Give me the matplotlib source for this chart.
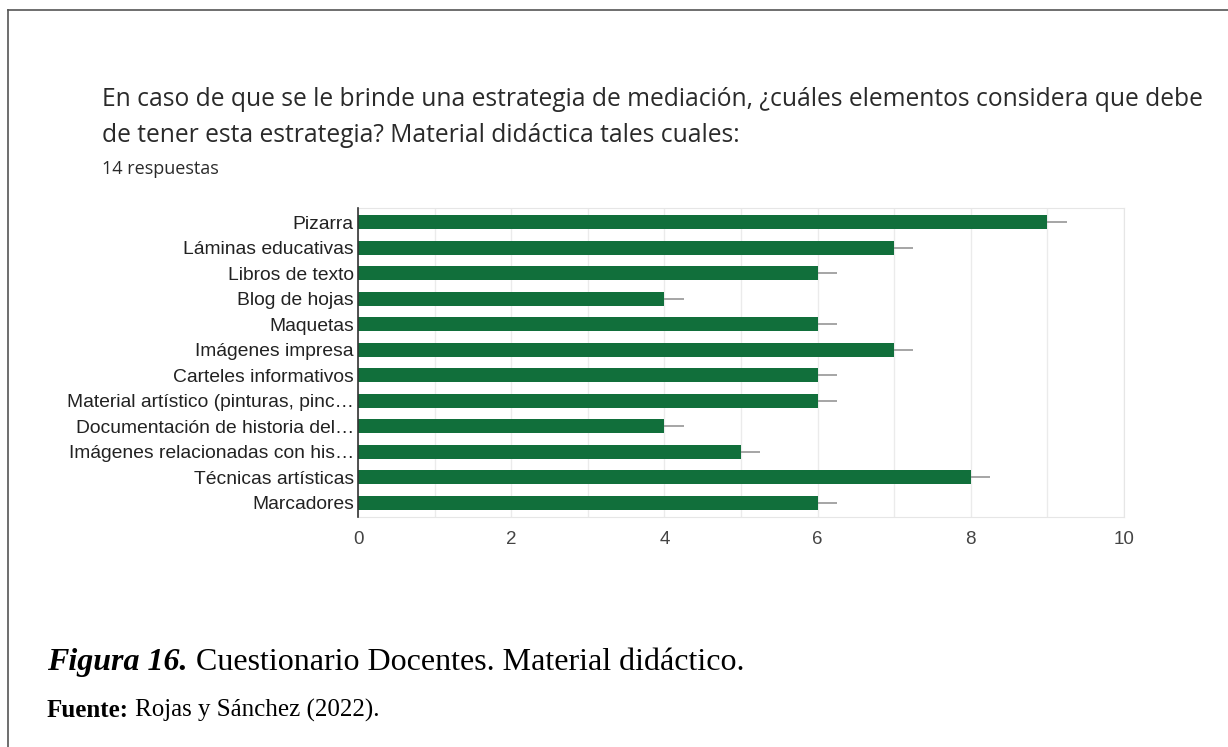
import matplotlib
matplotlib.use("Agg")
import matplotlib.pyplot as plt
from matplotlib.lines import Line2D
import numpy as np

categories = [
    "Pizarra",
    "Láminas educativas",
    "Libros de texto",
    "Blog de hojas",
    "Maquetas",
    "Imágenes impresa",
    "Carteles informativos",
    "Material artístico (pinturas, pinc…",
    "Documentación de historia del…",
    "Imágenes relacionadas con his…",
    "Técnicas artísticas",
    "Marcadores",
]
values = [9, 7, 6, 4, 6, 7, 6, 6, 4, 5, 8, 6]
xticks = [0, 2, 4, 6, 8, 10]

W, H = 1228, 747
fig = plt.figure(figsize=(W / 100, H / 100), dpi=100)
fig.patch.set_facecolor("white")

# page frame (left and top lines)
fig.add_artist(Line2D([8 / W, 8 / W], [0, 1 - 10 / H], color="#555555", lw=1.2))
fig.add_artist(Line2D([8 / W, 1], [1 - 10 / H, 1 - 10 / H], color="#555555", lw=1.2))

ax = fig.add_axes([358 / W, 1 - 517 / H, (1124 - 358) / W, (517 - 208) / H])
y = np.arange(len(categories))
ax.barh(y, values, height=0.55, color="#116f3b", zorder=3)
ax.errorbar(values, y, xerr=[[0] * len(values), [0.25] * len(values)], fmt="none",
            ecolor="#9e9e9e", elinewidth=1.3, capsize=0, zorder=2)
ax.set_ylim(len(categories) - 0.45, -0.55)
ax.set_xlim(0, 10)
ax.set_yticks(y)
ax.set_yticklabels(categories, fontsize=13.9, color="#222222", family="Liberation Sans")
ax.set_xticks(xticks)
ax.set_xticks(np.arange(0, 11, 1), minor=True)
ax.set_xticklabels([str(v) for v in xticks], fontsize=13.5, color="#444444", family="Liberation Sans")
ax.tick_params(axis="both", which="both", length=0)
ax.tick_params(axis="y", pad=3)
ax.tick_params(axis="x", pad=10)
ax.grid(axis="x", which="both", color="#ebebeb", lw=1, zorder=0)
for s in ["top", "bottom", "right"]:
    ax.spines[s].set_color("#e6e6e6")
ax.spines["left"].set_color("#333333")
ax.spines["left"].set_linewidth(1.2)
ax.spines["left"].set_zorder(4)

fig.text(102 / W, 1 - 106 / H,
         "En caso de que se le brinde una estrategia de mediación, ¿cuáles elementos considera que debe",
         fontsize=17.7, family="Open Sans", color="#2a2a2a", va="baseline")
fig.text(102 / W, 1 - 142 / H,
         "de tener esta estrategia? Material didáctica tales cuales:",
         fontsize=17.7, family="Open Sans", color="#2a2a2a", va="baseline")
fig.text(102 / W, 1 - 174 / H, "14 respuestas", fontsize=13, family="Open Sans",
         color="#2a2a2a", va="baseline")

fig.text(47 / W, 1 - 670 / H, "Figura 16.", fontsize=23, family="Liberation Serif",
         style="italic", weight="bold", va="baseline")
fig.text(196 / W, 1 - 670 / H, "Cuestionario Docentes. Material didáctico.", fontsize=23,
         family="Liberation Serif", va="baseline")
fig.text(47 / W, 1 - 717 / H, "Fuente:", fontsize=18, family="Liberation Serif",
         weight="bold", va="baseline")
fig.text(135 / W, 1 - 717 / H, "Rojas y Sánchez (2022).", fontsize=18,
         family="Liberation Serif", va="baseline")

fig.savefig("out.png", dpi=100, facecolor="white")
